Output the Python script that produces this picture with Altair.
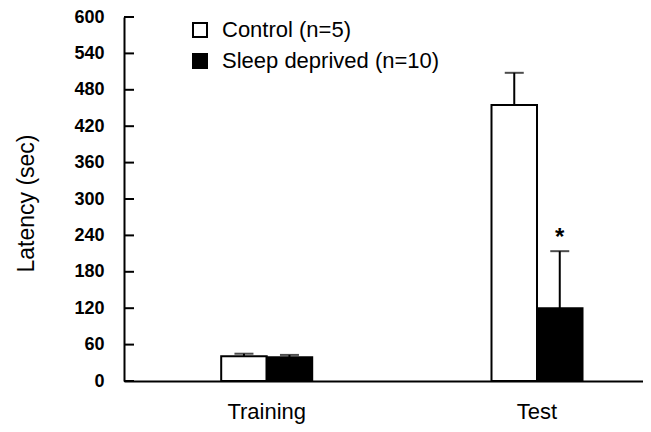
import altair as alt
import pandas as pd

groups = ["Training", "Test"]
series = ["Control (n=5)", "Sleep deprived (n=10)"]
control_mean = [41, 455]
control_err = [4, 53]
sd_mean = [39, 120]
sd_err = [4, 94]
sd_marks = ["", "*"]
y_ticks = [0, 60, 120, 180, 240, 300, 360, 420, 480, 540, 600]

rows = []
for i, g in enumerate(groups):
    rows.append({"group": g, "series": series[0], "mean": control_mean[i],
                 "upper": control_mean[i] + control_err[i], "mark": ""})
    rows.append({"group": g, "series": series[1], "mean": sd_mean[i],
                 "upper": sd_mean[i] + sd_err[i], "mark": sd_marks[i]})
df = pd.DataFrame(rows)
ticks_df = pd.DataFrame({"v": y_ticks})

FONT = "Liberation Sans"

x_axis = alt.Axis(title=None, labelAngle=0, labelFontSize=22, labelFont=FONT,
                  labelColor="black", ticks=False, tickSize=0, grid=False,
                  domainColor="black", domainWidth=2,
                  labelBaseline="alphabetic", labelPadding=37)
y_axis = alt.Axis(values=y_ticks, title="Latency (sec)", grid=False,
                  ticks=False, tickSize=0, labelPadding=20, labelOverlap=False,
                  labelFontSize=18, labelFontWeight="bold", labelFont=FONT,
                  labelColor="black", labelBound=False, labelFlush=False,
                  domainColor="black", domainWidth=2,
                  titleFont=FONT, titleFontSize=23, titleFontWeight="normal",
                  titleColor="black", titleBaseline="alphabetic",
                  titleX=-91, titleY=186)
x_scale = alt.Scale(paddingInner=0.6633, paddingOuter=0.2917, align=0.6164)
y_scale = alt.Scale(domain=[0, 600], nice=False)

x_enc = alt.X("group:N", sort=groups, scale=x_scale, axis=x_axis)
xo_enc = alt.XOffset("series:N", sort=series)

bars = alt.Chart(df).mark_bar(stroke="black", strokeWidth=2).encode(
    x=x_enc,
    xOffset=xo_enc,
    y=alt.Y("mean:Q", scale=y_scale, stack=False, axis=y_axis),
    fill=alt.Fill("series:N", sort=series,
                  scale=alt.Scale(domain=series, range=["white", "black"]),
                  legend=alt.Legend(title=None, orient="none", legendX=65, legendY=2,
                                    symbolType="square", symbolSize=196,
                                    symbolStrokeColor="black", symbolStrokeWidth=2,
                                    labelFontSize=22, labelFont=FONT, labelColor="black",
                                    labelOffset=11, rowPadding=9, labelLimit=400)),
)

err = alt.Chart(df).mark_rule(color="black", strokeWidth=2).encode(
    x=x_enc,
    xOffset=xo_enc,
    y=alt.Y("mean:Q", scale=y_scale, axis=y_axis),
    y2="upper:Q",
)

caps = alt.Chart(df).mark_tick(color="black", thickness=2, size=19, orient="horizontal").encode(
    x=x_enc,
    xOffset=xo_enc,
    y=alt.Y("upper:Q", scale=y_scale, axis=y_axis),
)

stars = alt.Chart(df).mark_text(fontSize=24, fontWeight="bold", font=FONT, color="black",
                                baseline="alphabetic", dy=-6).encode(
    x=x_enc,
    xOffset=xo_enc,
    y=alt.Y("upper:Q", scale=y_scale, axis=y_axis),
    text="mark:N",
)

inticks = alt.Chart(ticks_df).mark_rule(color="black", strokeWidth=2).encode(
    x=alt.value(0), x2=alt.value(10),
    y=alt.Y("v:Q", scale=y_scale, axis=y_axis),
)

chart = alt.layer(bars, err, caps, stars, inticks).properties(
    width=519, height=364,
    autosize=alt.AutoSizeParams(type="none"),
    padding={"left": 116, "top": 9, "right": 0, "bottom": 43},
).configure(font=FONT).configure_view(stroke=None).configure_axis(labelOverlap=False)

chart.save("out.html", embed_options={"renderer": "svg", "actions": False})
